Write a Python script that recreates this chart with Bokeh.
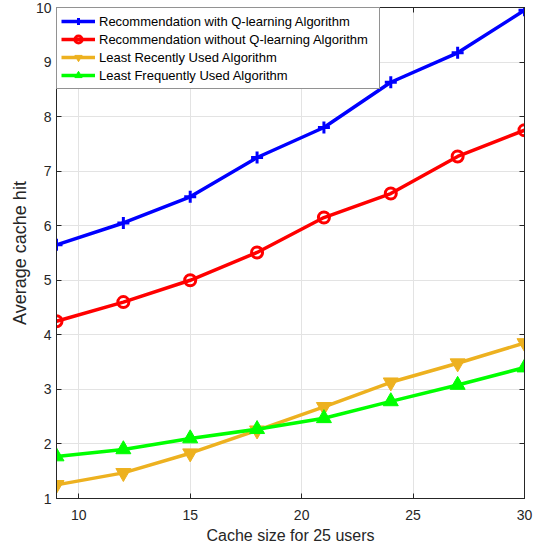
from bokeh.plotting import figure
from bokeh.models import LinearAxis, FixedTicker, Range1d
from bokeh.embed import file_html
from bokeh.resources import INLINE

cache_size = [9, 12, 15, 18, 21, 24, 27, 30]
q_learning = [5.65, 6.05, 6.53, 7.25, 7.80, 8.63, 9.17, 9.95]
no_q_learning = [4.25, 4.60, 5.00, 5.51, 6.15, 6.59, 7.27, 7.75]
lru = [1.25, 1.47, 1.83, 2.25, 2.68, 3.13, 3.48, 3.85]
lfu = [1.77, 1.90, 2.10, 2.27, 2.47, 2.78, 3.08, 3.40]
x_ticks = [10, 15, 20, 25, 30]
y_ticks = [1, 2, 3, 4, 5, 6, 7, 8, 9, 10]

FONT = "Liberation Sans"
TXT = "#262626"

p = figure(width=536, height=554, output_backend="svg", toolbar_location=None,
           x_range=Range1d(9, 30), y_range=Range1d(1, 10),
           min_border_left=56, min_border_right=12, min_border_top=7, min_border_bottom=56)
p.outline_line_color = TXT
p.outline_line_width = 1
p.background_fill_color = "white"
p.border_fill_color = "white"

for ax in (p.xaxis[0], p.yaxis[0]):
    ax.major_tick_in = 5
    ax.major_tick_out = 0
    ax.minor_tick_line_color = None
    ax.axis_line_color = TXT
    ax.major_tick_line_color = TXT
    ax.major_label_text_font = FONT
    ax.major_label_text_font_size = "14px"
    ax.major_label_text_color = TXT
    ax.axis_label_text_font = FONT
    ax.axis_label_text_font_style = "normal"
    ax.axis_label_text_color = TXT
p.xaxis.ticker = FixedTicker(ticks=x_ticks)
p.yaxis.ticker = FixedTicker(ticks=y_ticks)
p.xaxis.axis_label = "Cache size for 25 users"
p.yaxis.axis_label = "Average cache hit"
p.xaxis.axis_label_text_font_size = "16px"
p.yaxis.axis_label_text_font_size = "18px"
p.xaxis.major_label_standoff = 11
p.yaxis.major_label_standoff = 5
p.xaxis.axis_label_standoff = 4
p.yaxis.axis_label_standoff = 3

for loc, tk in (("right", y_ticks), ("above", x_ticks)):
    ax = LinearAxis(ticker=FixedTicker(ticks=tk))
    ax.major_tick_in = 5
    ax.major_tick_out = 0
    ax.minor_tick_line_color = None
    ax.axis_line_color = TXT
    ax.major_tick_line_color = TXT
    ax.major_label_overrides = {t: "" for t in tk}
    ax.major_label_standoff = 0
    p.add_layout(ax, loc)

p.xgrid.ticker = FixedTicker(ticks=x_ticks)
p.ygrid.ticker = FixedTicker(ticks=y_ticks)
p.grid.grid_line_color = "#e3e3e3"
p.grid.grid_line_width = 1

LW = 3.5
lab1 = "Recommendation with Q-learning Algorithm"
lab2 = "Recommendation without Q-learning Algorithm"
lab3 = "Least Recently Used Algorithm"
lab4 = "Least Frequently Used Algorithm"

p.line(cache_size, q_learning, line_color="#0000ff", line_width=LW, legend_label=lab1)
p.scatter(cache_size, q_learning, marker="cross", size=12, line_color="#0000ff", line_width=3, legend_label=lab1)

p.line(cache_size, no_q_learning, line_color="#ff0000", line_width=LW, legend_label=lab2)
p.scatter(cache_size, no_q_learning, marker="circle", size=11, line_color="#ff0000", fill_color=None, line_width=3, legend_label=lab2)

p.line(cache_size, lru, line_color="#EDB120", line_width=LW, legend_label=lab3)
p.scatter(cache_size, lru, marker="inverted_triangle", size=15, line_color="#EDB120", fill_color="#EDB120", legend_label=lab3)

p.line(cache_size, lfu, line_color="#00ff00", line_width=LW, legend_label=lab4)
p.scatter(cache_size, lfu, marker="triangle", size=15, line_color="#00ff00", fill_color="#00ff00", legend_label=lab4)

lg = p.legend[0]
lg.location = "top_left"
lg.margin = 0
lg.padding = 4
lg.spacing = 0
lg.glyph_width = 34
lg.glyph_height = 18
lg.label_height = 18
lg.label_width = 276
lg.label_standoff = 4
lg.label_text_font = FONT
lg.label_text_font_size = "13px"
lg.label_text_color = "black"
lg.border_line_color = TXT
lg.border_line_width = 1
lg.background_fill_alpha = 1.0

open("out.html", "w").write(file_html(p, INLINE))
